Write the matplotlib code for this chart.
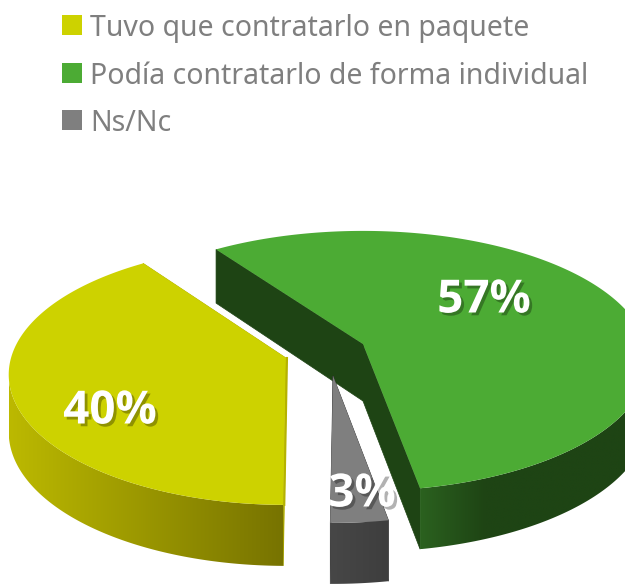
import numpy as np
import matplotlib
matplotlib.use("Agg")
import matplotlib.pyplot as plt
import matplotlib.patheffects as pe
from matplotlib.colors import to_rgb
from matplotlib.patches import Polygon

# data
categories = ["Tuvo que contratarlo en paquete", "Podía contratarlo de forma individual", "Ns/Nc"]
values = [40, 57, 3]

# styles, same order as the categories
top_colors = ["#cdd200", "#4cab34", "#7f7f7f"]
side_left = ["#bcb900", "#2b611f", "#474747"]
side_right = ["#777300", "#1e4414", "#3e3e3e"]
wall_colors = ["#b5b200", "#1e4414", "#3e3e3e"]
apexes = [(286, 358), (363, 344), (333, 376)]
radii = [275, 283, 275]
label_pos = [(110, 411), (484, 300), (362, 494)]
fade = [1, 3.5, 1]

RY = 130
PERSP = 0.13
DEPTH = 57


def rim(ap, rx, t):
    x = ap[0] + rx * np.cos(t) * (1 - PERSP * np.sin(t))
    y = ap[1] - RY * np.sin(t) * (1 - PERSP * np.sin(t))
    return x, y


def drop(t):
    return DEPTH * (1 - 0.07 * np.sin(t))


fig = plt.figure(figsize=(6.25, 5.84), dpi=100)
ax = fig.add_axes([0, 0, 1, 1])

# legend
for i, name in enumerate(categories):
    y0 = 15 + i * 47.5
    ax.fill([62, 82, 82, 62], [y0, y0, y0 + 20, y0 + 20], color=top_colors[i], lw=0)
    ax.text(90, y0 + 21, name, color="#7f7f7f", fontsize=20.5, family="Noto Sans", va="baseline")

# wedge angles, clockwise from the bottom
fracs = np.array(values) / sum(values)
edges = np.deg2rad(-90.5) - 2 * np.pi * np.concatenate(([0], np.cumsum(fracs)))

for i in range(len(values)):
    t0, t1 = edges[i], edges[i + 1]
    ap = apexes[i]
    ts = np.linspace(t0, t1, 400)
    xs, ys = rim(ap, radii[i], ts)
    ds = drop(ts)

    # cut walls
    for t in (t0, t1):
        ex, ey = rim(ap, radii[i], t)
        ax.fill([ap[0], ex, ex, ap[0]], [ap[1], ey, ey + drop(t), ap[1] + DEPTH],
                color=wall_colors[i], lw=0.5, zorder=i + 1)

    # outer side, a left to right gradient clipped to the side shape
    front = np.sin(ts) < 0
    fx, fy, fd = xs[front], ys[front], ds[front]
    if fx.argmin() > 0 and fx.argmin() < len(fx) - 1:
        # perspective pushes the rim past its widest point, stop there
        keep = fx.argmin() + 1
        fx, fy, fd = fx[:keep], fy[:keep], fd[:keep]
    xmin, xmax = fx.min(), fx.max()
    left, right = np.array(to_rgb(side_left[i])), np.array(to_rgb(side_right[i]))
    u = np.clip(np.linspace(0, 1, 256) * fade[i], 0, 1)[:, None]
    grad = (left + (right - left) * u)[None, :, :]
    shape = Polygon(np.c_[np.r_[fx, fx[::-1]], np.r_[fy, (fy + fd)[::-1]]], closed=True,
                    facecolor="none", edgecolor="none", transform=ax.transData)
    ax.add_patch(shape)
    im = ax.imshow(grad, extent=[xmin, xmax, (fy + fd).max(), fy.min()], aspect="auto",
                   interpolation="bilinear", zorder=i + 1.1)
    im.set_clip_path(shape)

    # top face
    ax.fill(np.r_[ap[0], xs], np.r_[ap[1], ys], color=top_colors[i], lw=0, zorder=i + 1.2)

# thin edge on the yellow cut
ex, ey = rim(apexes[0], radii[0], edges[0])
ax.plot([apexes[0][0] + 1, ex + 1], [apexes[0][1], ey], color=wall_colors[0], lw=1.5, zorder=1.3)

ax.set_xlim(0, 625)
ax.set_ylim(584, 0)
ax.axis("off")

# percent labels
for i, v in enumerate(values):
    ax.text(label_pos[i][0], label_pos[i][1], f"{v}%", color="white", fontsize=33,
            family="Open Sans", fontweight="bold", ha="center", va="center", zorder=10,
            path_effects=[pe.SimplePatchShadow(offset=(2, -2), shadow_rgbFace="black", alpha=0.3),
                          pe.Normal()])

fig.savefig("out.png", dpi=100, facecolor="white")
